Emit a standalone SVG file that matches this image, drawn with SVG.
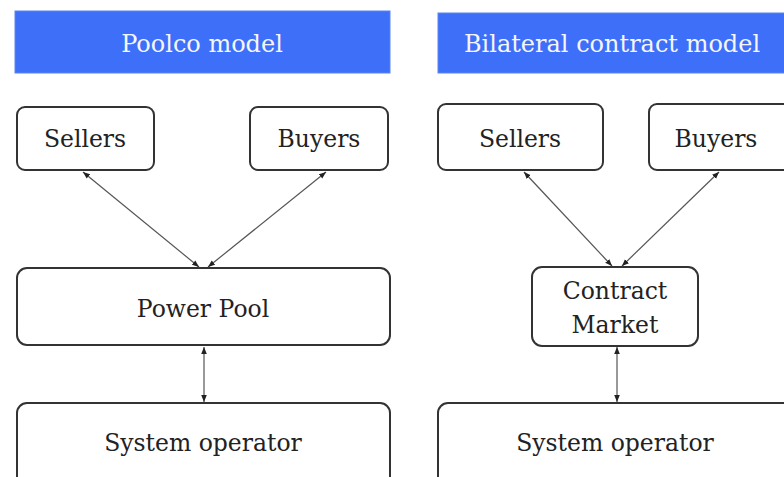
<svg xmlns="http://www.w3.org/2000/svg" width="784" height="477" viewBox="0 0 784 477">
<style>
.hdr{fill:#3e6ff8;stroke:#5a86f0;stroke-width:1}
.hdrt{font-family:'DejaVu Serif',serif;font-size:24px;fill:#f4f6ff;text-anchor:middle}
.box{fill:#fff;stroke:#333;stroke-width:2}
.t{font-family:'DejaVu Serif',serif;font-size:23.5px;fill:#222;text-anchor:middle}
.c{stroke:#555;stroke-width:1.2;fill:none;marker-start:url(#ah);marker-end:url(#ah)}
</style>
<defs>
<marker id="ah" viewBox="0 0 10 10" refX="10" refY="5" markerWidth="7" markerHeight="7" orient="auto-start-reverse" markerUnits="userSpaceOnUse">
<path d="M0,1 L10,5 L0,9 Z" fill="#222"/>
</marker>
</defs>
<rect width="784" height="477" fill="#fff"/>
<g id="poolco-header"><rect class="hdr" x="15" y="11" width="375" height="62"/><text class="hdrt" x="202" y="52">Poolco model</text></g>
<g id="bilateral-header"><rect class="hdr" x="438" y="13" width="360" height="60"/><text class="hdrt" x="612" y="52">Bilateral contract model</text></g>
<g id="sellers-left"><rect class="box" x="17" y="107" width="137" height="63" rx="8"/><text class="t" x="85" y="147">Sellers</text></g>
<g id="buyers-left"><rect class="box" x="250" y="107" width="138" height="63" rx="8"/><text class="t" x="319" y="147">Buyers</text></g>
<g id="powerpool"><rect class="box" x="17" y="268" width="373" height="77" rx="10"/><text class="t" x="203" y="317">Power Pool</text></g>
<g id="sysop-left"><rect class="box" x="17" y="403" width="373" height="90" rx="10"/><text class="t" x="203" y="451">System operator</text></g>
<g id="sellers-right"><rect class="box" x="438" y="104" width="165" height="66" rx="8"/><text class="t" x="520" y="147">Sellers</text></g>
<g id="buyers-right"><rect class="box" x="649" y="104" width="150" height="66" rx="8"/><text class="t" x="716" y="147">Buyers</text></g>
<g id="contract-market"><rect class="box" x="532" y="267" width="166" height="79" rx="10"/><text class="t" x="615" y="299">Contract</text><text class="t" x="615" y="333">Market</text></g>
<g id="sysop-right"><rect class="box" x="438" y="403" width="360" height="90" rx="10"/><text class="t" x="615" y="451">System operator</text></g>
<g id="connectors">
<line class="c" x1="83" y1="172" x2="199" y2="267"/>
<line class="c" x1="326" y1="172" x2="208" y2="267"/>
<line class="c" x1="204" y1="347" x2="204" y2="402"/>
<line class="c" x1="524" y1="172" x2="612" y2="266"/>
<line class="c" x1="719" y1="172" x2="622" y2="266"/>
<line class="c" x1="617" y1="347" x2="617" y2="402"/>
</g>
</svg>
